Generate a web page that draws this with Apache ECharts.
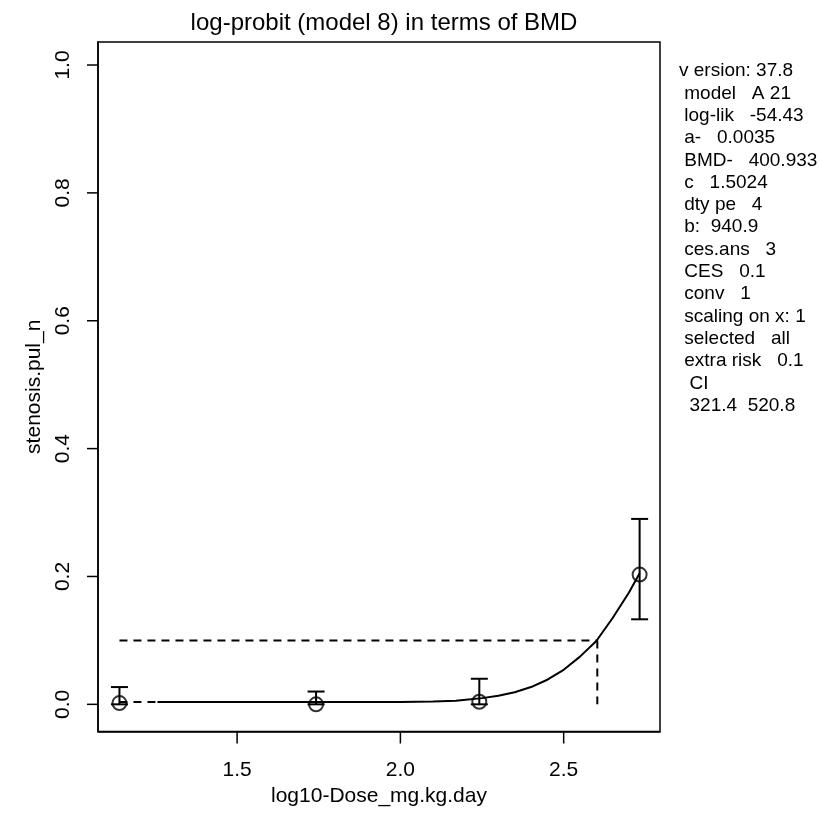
<!DOCTYPE html>
<html>
<head>
<meta charset="utf-8">
<script src="https://cdn.jsdelivr.net/npm/echarts@6/dist/echarts.min.js"></script>
<style>html,body{margin:0;padding:0;background:#fff}#c{width:820px;height:834px}</style>
</head>
<body>
<div id="c"></div>
<script>
// observed data (log10 dose, response, CI)
const doseLog = [1.1397, 1.7418, 2.2417, 2.7326];
const resp = [0.002, 0.0, 0.004, 0.203];
const lower = [0.0, 0.0, 0.0, 0.133];
const upper = [0.027, 0.020, 0.040, 0.290];
// fitted curve
const curveX = [1.256, 1.5, 1.8, 2.0, 2.1, 2.17, 2.2, 2.25, 2.3, 2.35, 2.4, 2.45, 2.5, 2.55, 2.6, 2.65, 2.7, 2.7326];
const curveY = [0.0035, 0.0035, 0.0035, 0.0037, 0.0045, 0.0055, 0.0072, 0.0097, 0.0134, 0.019, 0.027, 0.0385, 0.054, 0.0746, 0.099, 0.135, 0.175, 0.205];
const cesLevel = 0.1;
const bmdLog = 2.603;
const xTicks = [1.5, 2.0, 2.5];
const yTicks = [0, 0.2, 0.4, 0.6, 0.8, 1.0];
const infoLines = [
  'v ersion: 37.8',
  ' model   A 21',
  ' log-lik   -54.43',
  ' a-   0.0035',
  ' BMD-   400.933',
  ' c   1.5024',
  ' dty pe   4',
  ' b:  940.9',
  ' ces.ans   3',
  ' CES   0.1',
  ' conv   1',
  ' scaling on x: 1',
  ' selected   all',
  ' extra risk   0.1',
  '  CI',
  '  321.4  520.8'
];
const titleText = 'log-probit (model 8) in terms of BMD';
const xName = 'log10-Dose_mg.kg.day';
const yName = 'stenosis.pul_n';

const FONT = '"Liberation Sans", Arial, Helvetica, sans-serif';
const X_MIN = 1.074, X_MAX = 2.795, Y_MIN = -0.0425, Y_MAX = 1.036;
const chart = echarts.init(document.getElementById('c'));

const curveData = curveX.map((x, i) => [x, curveY[i]]);
const pts = doseLog.map((x, i) => [x, resp[i]]);
const bars = doseLog.map((x, i) => [x, lower[i], upper[i]]);
const tickData = xTicks.map(v => [v, Y_MIN, 0]).concat(yTicks.map(v => [X_MIN, v, 1]));

chart.setOption({
  animation: false,
  backgroundColor: '#fff',
  title: {
    text: titleText, left: 379, top: 6, textAlign: 'center',
    textStyle: { fontFamily: FONT, fontSize: 24, fontWeight: 'normal', color: '#000' }
  },
  grid: { left: 98, right: 160, top: 42, bottom: 102.5, show: true, borderColor: '#000', borderWidth: 1.5, containLabel: false },
  xAxis: {
    type: 'value', min: X_MIN, max: X_MAX,
    name: xName, nameLocation: 'middle', nameGap: 52,
    nameTextStyle: { fontFamily: FONT, fontSize: 21, color: '#000' },
    axisLine: { show: true, onZero: false, lineStyle: { color: '#000', width: 1.5 } },
    splitLine: { show: false },
    axisTick: { show: false },
    axisLabel: { customValues: xTicks, margin: 28, fontFamily: FONT, fontSize: 21, color: '#000', formatter: v => v.toFixed(1) }
  },
  yAxis: {
    type: 'value', min: Y_MIN, max: Y_MAX,
    name: yName, nameLocation: 'middle', nameGap: 46,
    nameTextStyle: { fontFamily: FONT, fontSize: 21, color: '#000' },
    axisLine: { show: true, onZero: false, lineStyle: { color: '#000', width: 1.5 } },
    splitLine: { show: false },
    axisTick: { show: false },
    axisLabel: { customValues: yTicks, rotate: 90, margin: 24, fontFamily: FONT, fontSize: 21, color: '#000', formatter: v => v.toFixed(1) }
  },
  graphic: [{
    type: 'text', left: 679, top: 60,
    style: { text: infoLines.join('\n'), font: '19px ' + FONT, fill: '#000', lineHeight: 22.3 }
  }],
  series: [
    { type: 'line', data: curveData, showSymbol: false, smooth: false, lineStyle: { color: '#000', width: 2 }, z: 3 },
    { type: 'line', data: [[doseLog[0], curveY[0]], [curveX[0], curveY[0]]], showSymbol: false, lineStyle: { color: '#000', width: 2, type: [8, 6] } },
    { type: 'line', data: [[doseLog[0], cesLevel], [bmdLog, cesLevel]], showSymbol: false, lineStyle: { color: '#000', width: 2, type: [8, 6] } },
    { type: 'line', data: [[bmdLog, cesLevel], [bmdLog, 0]], showSymbol: false, lineStyle: { color: '#000', width: 2, type: [8, 6] } },
    {
      type: 'custom', data: bars, z: 4,
      renderItem: function (params, api) {
        const x = api.value(0), lo = api.value(1), hi = api.value(2);
        const a = api.coord([x, lo]), b = api.coord([x, hi]);
        const w = 8.5;
        const st = { stroke: '#000', lineWidth: 2 };
        return { type: 'group', children: [
          { type: 'line', shape: { x1: a[0], y1: a[1], x2: b[0], y2: b[1] }, style: st },
          { type: 'line', shape: { x1: a[0] - w, y1: a[1], x2: a[0] + w, y2: a[1] }, style: st },
          { type: 'line', shape: { x1: b[0] - w, y1: b[1], x2: b[0] + w, y2: b[1] }, style: st }
        ]};
      }
    },
    {
      // outward axis tick marks at the tick values
      type: 'custom', data: tickData, clip: false, z: 6, silent: true,
      renderItem: function (params, api) {
        const p = api.coord([api.value(0), api.value(1)]);
        const isY = api.value(2) === 1;
        return { type: 'line',
          shape: isY ? { x1: p[0], y1: p[1], x2: p[0] - 11, y2: p[1] } : { x1: p[0], y1: p[1], x2: p[0], y2: p[1] + 12 },
          style: { stroke: '#000', lineWidth: 1.5 } };
      }
    },
    { type: 'scatter', data: pts, symbol: 'circle', symbolSize: 14, z: 5,
      itemStyle: { color: 'rgba(0,0,0,0)', borderColor: '#000', borderWidth: 2 } }
  ]
});
</script>
</body>
</html>
